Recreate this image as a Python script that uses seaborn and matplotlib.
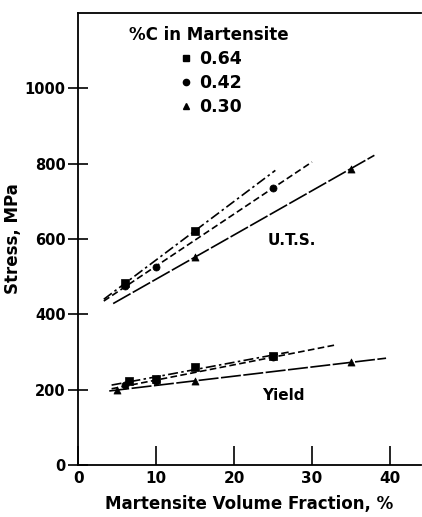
import numpy as np
import pandas as pd
import matplotlib
matplotlib.use("Agg")
import matplotlib.pyplot as plt
import seaborn as sns
from matplotlib.lines import Line2D

sns.set_style("ticks")
plt.rcParams["font.family"] = ["DejaVu Sans"]
plt.rcParams["font.weight"] = "bold"
for key in ["text.color", "axes.labelcolor", "xtick.color", "ytick.color", "axes.edgecolor"]:
    plt.rcParams[key] = "black"

# Carbon content of the martensite (legend categories)
carbon = ["0.64", "0.42", "0.30"]
markers = {"0.64": "s", "0.42": "o", "0.30": "^"}
dashes = {"0.64": (0, (6, 2, 1.5, 2)), "0.42": (0, (4, 2)), "0.30": (0, (12, 1.5))}

# Ultimate tensile strength, MPa, vs martensite volume fraction, %
uts_vf = {"0.64": [6, 15], "0.42": [6, 10, 25], "0.30": [15, 35]}
uts_mpa = {"0.64": [482, 622], "0.42": [475, 525, 736], "0.30": [552, 787]}
uts_span = {"0.64": (3.3, 25.3), "0.42": (3.3, 30.0), "0.30": (4.5, 38.0)}

# Yield strength, MPa, vs martensite volume fraction, %
ys_vf = {"0.64": [6.5, 10, 15, 25], "0.42": [6, 10, 25], "0.30": [5, 15, 35]}
ys_mpa = {"0.64": [222, 228, 260, 290], "0.42": [212, 222, 287], "0.30": [200, 222, 273]}
ys_span = {"0.64": (4.3, 27.0), "0.42": (4.3, 33.0), "0.30": (4.0, 39.5)}

x_ticks = [0, 10, 20, 30, 40]
y_ticks = [0, 200, 400, 600, 800, 1000]

fig = plt.figure(figsize=(4.22, 5.17), dpi=100)
ax = fig.add_axes([0.185, 0.1006, 0.813, 0.8742])

for vf, mpa, span in ((uts_vf, uts_mpa, uts_span), (ys_vf, ys_mpa, ys_span)):
    for c in carbon:
        slope, icept = np.polyfit(vf[c], mpa[c], 1)
        xs = np.array(span[c])
        fit = pd.DataFrame({"x": xs, "y": slope * xs + icept})
        sns.lineplot(data=fit, x="x", y="y", ax=ax, color="black", lw=1.2,
                     linestyle=dashes[c])
        pts = pd.DataFrame({"x": vf[c], "y": mpa[c]})
        sns.scatterplot(data=pts, x="x", y="y", ax=ax, marker=markers[c],
                        color="black", s=26, edgecolor="black", linewidth=0.5,
                        zorder=3)

ax.set_xlim(0, 44)
ax.set_ylim(0, 1200)
ax.set_xticks(x_ticks)
ax.set_yticks(y_ticks)
ax.tick_params(axis="x", direction="in", length=14, width=1.2, labelsize=11, pad=4)
ax.tick_params(axis="y", direction="inout", length=14, width=1.2, labelsize=10.5, pad=2)
for s in ["left", "bottom", "top"]:
    ax.spines[s].set_linewidth(1.3)
ax.spines["right"].set_visible(False)

ax.set_xlabel("Martensite Volume Fraction, %", fontsize=12, fontweight="bold", labelpad=7)
ax.set_ylabel("Stress, MPa", fontsize=12, fontweight="bold", labelpad=2)

ax.text(27.4, 596, "U.T.S.", ha="center", va="center", fontsize=11, fontweight="bold")
ax.text(26.3, 185, "Yield", ha="center", va="center", fontsize=11, fontweight="bold")

handles = [Line2D([], [], marker=markers[c], color="black", linestyle="none",
                  markersize=4.5, label=c) for c in carbon]
leg = ax.legend(handles=handles, title="%C in Martensite", frameon=False,
                loc="upper center", bbox_to_anchor=(0.381, 0.995), fontsize=12.5,
                title_fontsize=12, handletextpad=0.2, labelspacing=0.35,
                borderaxespad=0.2, handlelength=1.2)
leg.get_title().set_fontweight("bold")
for t in leg.get_texts():
    t.set_fontweight("bold")

fig.savefig("out.png", dpi=100, facecolor="white")
